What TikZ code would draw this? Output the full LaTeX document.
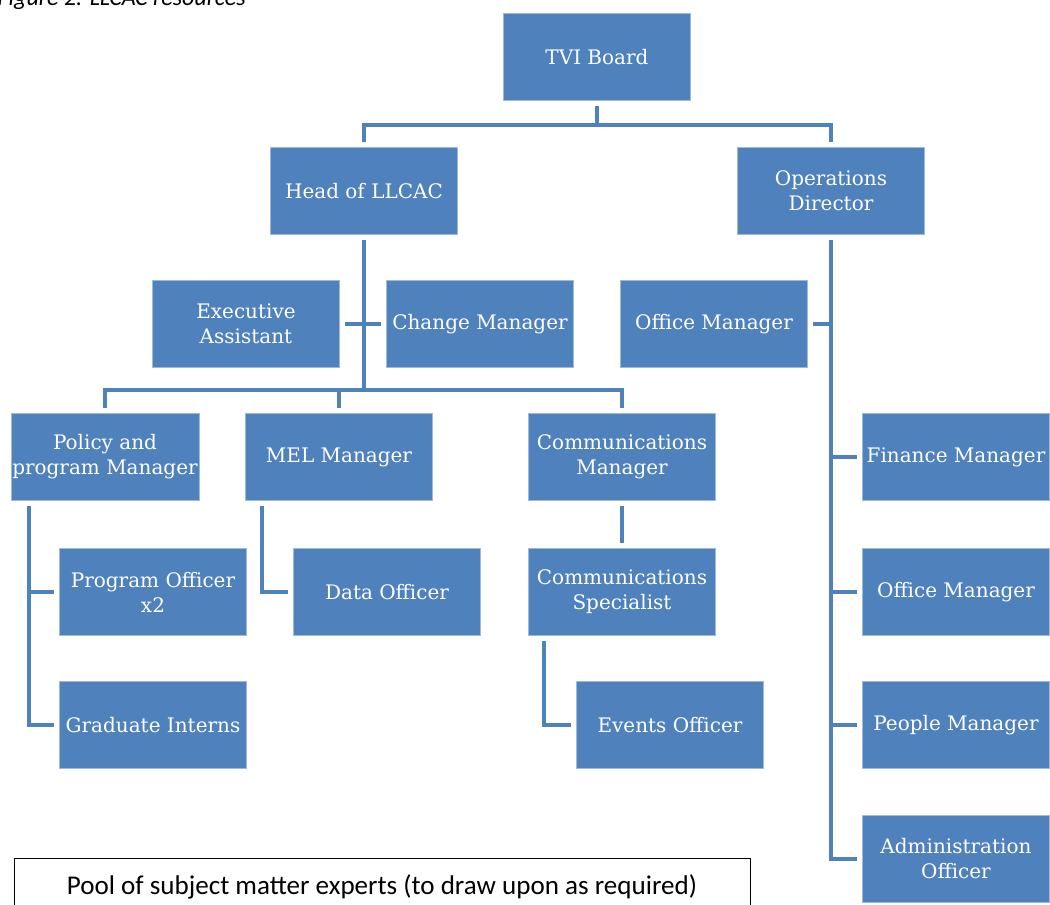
\documentclass[tikz,border=0pt]{standalone}
\usepackage{fontspec}
\setmainfont{DejaVu Serif}
\newfontfamily\calibri{Carlito}
\definecolor{boxblue}{HTML}{4F81BD}

\begin{document}
\begin{tikzpicture}[x=0.75pt, y=-0.75pt,
    box/.style={fill=boxblue, draw=boxblue!55!white, line width=0.6pt, text=white,
      align=center, minimum width=140pt, minimum height=65pt, inner sep=1pt,
      outer sep=4.5pt, font=\fontsize{15}{18.75}\selectfont},
    link/.style={draw=boxblue, line width=3.2pt}]
    \useasboundingbox (0,0) rectangle (1050,904);
    \clip (0,0) rectangle (1050,904);

    \node [anchor=base west, font=\calibri\itshape\fontsize{18}{21}\selectfont] (caption) at (-7,5) {Figure 2: LLCAC resources};

    % top levels
    \node [box] (tvi) at (597,57) {TVI Board};
    \node [box] (head) at (364,191) {Head of LLCAC};
    \node [box] (ops) at (831,191) {Operations\\Director};

    % head of LLCAC side
    \node [box] (exec) at (246,324) {Executive\\Assistant};
    \node [box] (change) at (480,324) {Change Manager};
    \node [box] (policy) at (105,457) {Policy and\\program Manager};
    \node [box] (mel) at (339,457) {MEL Manager};
    \node [box] (comms) at (622,457) {Communications\\Manager};
    \node [box] (progoff) at (153,592) {Program Officer\\x2};
    \node [box] (interns) at (153,725) {Graduate Interns};
    \node [box] (data) at (387,592) {Data Officer};
    \node [box] (spec) at (622,592) {Communications\\Specialist};
    \node [box] (events) at (670,725) {Events Officer};

    % operations side
    \node [box] (office) at (714,324) {Office Manager};
    \node [box] (finance) at (956,457) {Finance Manager};
    \node [box] (office2) at (956,592) {Office Manager};
    \node [box] (people) at (956,725) {People Manager};
    \node [box] (admin) at (956,859) {Administration\\Officer};

    \node [anchor=north, draw=black, line width=0.75pt, minimum width=552pt, minimum height=42pt,
      font=\calibri\fontsize{20.3}{24}\selectfont] (pool) at (382,858) {Pool of subject matter experts (to draw upon as required)};

    % connectors
    \coordinate (j1) at (tvi.south |- 0,125);
    \draw [link] (tvi.south) -- (j1);
    \draw [link] (head.north) |- (j1) -| (ops.north);

    \coordinate (j2) at (head.south |- 0,390);
    \draw [link] (head.south) -- (j2);
    \draw [link] (exec.east) -- (change.west);
    \draw [link] (policy.north) |- (j2 -| comms.north) -- (comms.north);
    \draw [link] (mel.north) -- (mel.north |- j2);

    \coordinate (pbus) at ([xshift=18pt]policy.south west);
    \draw [link] (pbus) |- (interns.west);
    \draw [link] (progoff.west) -- (progoff.west -| pbus);

    \coordinate (mbus) at ([xshift=16.5pt]mel.south west);
    \draw [link] (mbus) |- (data.west);

    \draw [link] (comms.south) -- (spec.north);
    \coordinate (sbus) at ([xshift=15.75pt]spec.south west);
    \draw [link] (sbus) |- (events.west);

    \draw [link] (ops.south) |- (admin.west);
    \draw [link] (office.east) -- (office.east -| ops.south);
    \draw [link] (finance.west) -- (finance.west -| ops.south);
    \draw [link] (office2.west) -- (office2.west -| ops.south);
    \draw [link] (people.west) -- (people.west -| ops.south);
\end{tikzpicture}
\end{document}
